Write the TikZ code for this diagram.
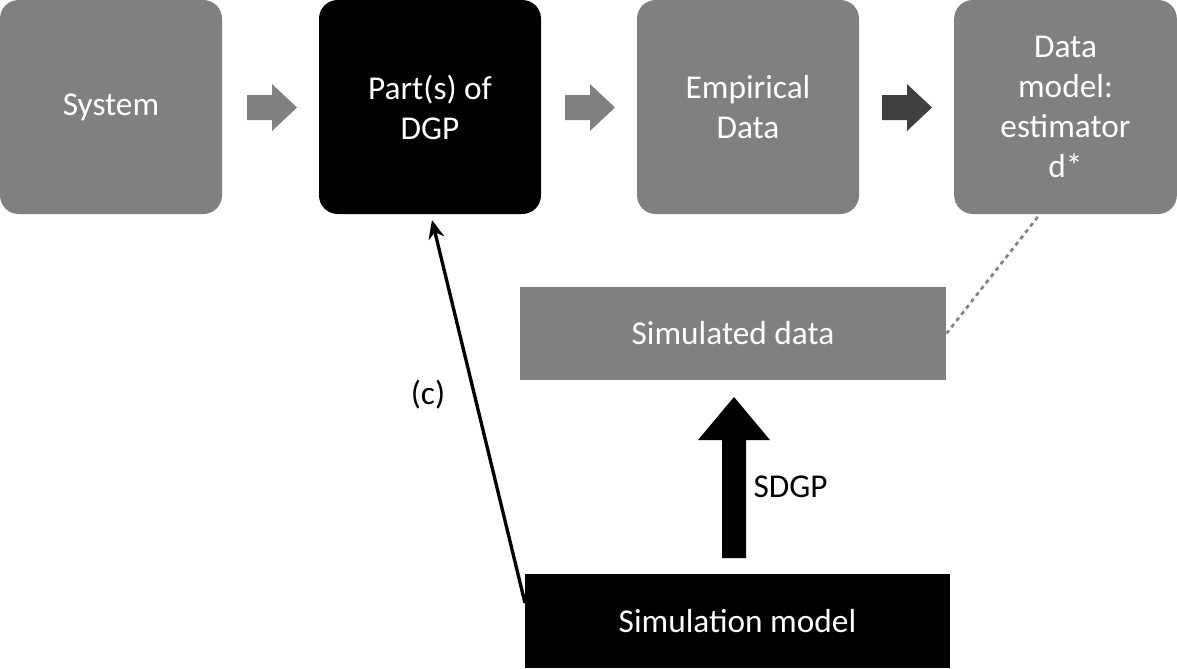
\documentclass[tikz,border=0pt]{standalone}
\usepackage{fontspec}
\setmainfont{Carlito}
\usetikzlibrary{arrows.meta}
\definecolor{boxgray}{RGB}{128,128,128}
\definecolor{darkarrow}{RGB}{64,64,64}
\tikzset{every picture/.style={line width=0.75pt}}
\tikzset{
  box/.style={rounded corners=14pt, fill=boxgray, text=white, align=center, inner sep=0pt, font=\fontsize{25}{30}\selectfont},
  darkbox/.style={box, fill=black},
  flatbox/.style={fill=boxgray, text=white, inner sep=0pt, font=\fontsize{25}{30}\selectfont},
  label/.style={font=\fontsize{25}{30}\selectfont, inner sep=0.75pt}
}
\begin{document}
\begin{tikzpicture}[x=0.75pt,y=0.75pt,yscale=-1,xscale=1]
\useasboundingbox (0,0) rectangle (1177,668);

% top row
\node [box, minimum width=166.5pt, minimum height=160.5pt] (system) at (111,107) {System};
\node [darkbox, minimum width=166.5pt, minimum height=160.5pt] (dgp) at (430,107) {Part(s) of\\DGP};
\node [box, minimum width=166.5pt, minimum height=160.5pt] (empirical) at (748,107) {Empirical\\Data};
\node [box, minimum width=167pt, minimum height=160.5pt] (datamodel) at (1065.5,107) {Data\\model:\\estimator\\d*};

% block arrows
\fill [boxgray] (247,95) -- (272,95) -- (272,84) -- (297,107.5) -- (272,131) -- (272,120) -- (247,120) -- cycle;
\fill [boxgray] (565,95) -- (590,95) -- (590,84) -- (615,107.5) -- (590,131) -- (590,120) -- (565,120) -- cycle;
\fill [darkarrow] (882,95) -- (907,95) -- (907,84) -- (932,107.5) -- (907,131) -- (907,120) -- (882,120) -- cycle;

% lower part
\node [flatbox, minimum width=319.5pt, minimum height=70pt] (simdata) at (733,333.5) {Simulated data};
\node [flatbox, fill=black, minimum width=319pt, minimum height=71pt] (simmodel) at (737.5,621) {Simulation model};

% SDGP arrow
\fill [black] (722,558) -- (746,558) -- (746,440) -- (770,440) -- (734,397) -- (698,440) -- (722,440) -- cycle;
\node [label, anchor=west] (sdgp) at (752,487) {SDGP};

% (c) arrow
\coordinate (cstart) at (525,603);
\draw [-{Stealth[length=14pt,width=12pt]}, line width=2.5pt] (cstart) -- (432,220);
\node [label] (clabel) at (428,395) {(c)};

% dashed link
\draw [boxgray, dashed, line width=2pt] (simdata.east) -- (1040,214);

\end{tikzpicture}
\end{document}
